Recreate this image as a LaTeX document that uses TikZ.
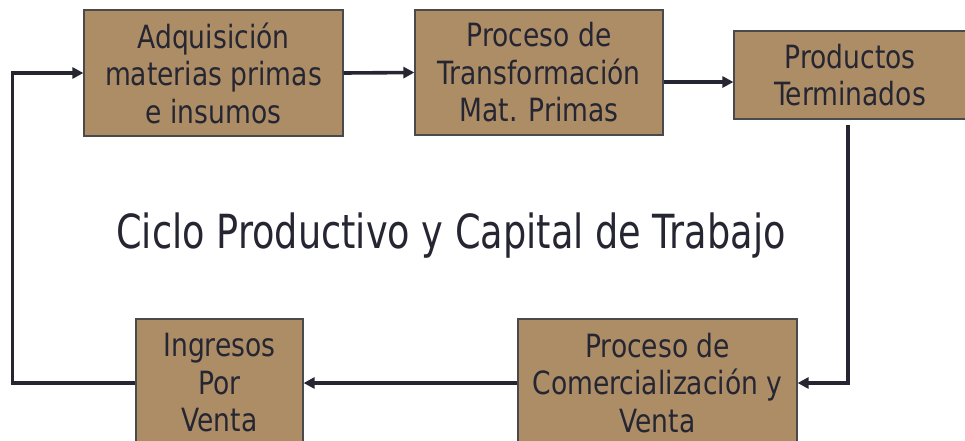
\documentclass[tikz,border=0pt]{standalone}
\usepackage{fontspec}
\setmainfont{DejaVu Sans}[FakeStretch=0.83]
\newfontfamily\titlefont{DejaVu Sans}[FakeStretch=0.78]
\usetikzlibrary{arrows.meta}
\definecolor{boxfill}{HTML}{AC8D66}
\definecolor{boxline}{HTML}{4A4A4A}
\definecolor{ink}{HTML}{262633}
\tikzset{
  procbox/.style={draw=boxline, line width=1.2pt, fill=boxfill, text=ink,
    rectangle, inner sep=0pt, align=center,
    font=\fontsize{32}{37.5}\selectfont},
  flow/.style={draw=ink, line width=3.6pt,
    -{Triangle[length=11pt,width=11pt]}}
}
\begin{document}
\begin{tikzpicture}[x=1pt,y=-1pt]
\useasboundingbox (0,0) rectangle (965,440);
\node[procbox, minimum width=259pt, minimum height=126pt] (b1) at (213.5,73)
  {Adquisición\\materias primas\\e insumos};
\node[procbox, minimum width=248pt, minimum height=125pt] (b2) at (539,72.5)
  {Proceso de\\Transformación\\Mat. Primas};
\node[procbox, minimum width=232pt, minimum height=88pt] (b3) at (850,75)
  {Productos\\Terminados};
\node[procbox, minimum width=279pt, minimum height=128pt] (b4) at (657.5,383)
  {Proceso de\\Comercialización y\\Venta};
\node[procbox, minimum width=167pt, minimum height=128pt] (b5) at (219.5,383)
  {Ingresos\\Por\\Venta};
\node[text=ink, font=\titlefont\fontsize{47}{56}\selectfont, anchor=base] (title) at (451,248)
  {Ciclo Productivo y Capital de Trabajo};
\coordinate (r2) at (0,82);
\coordinate (lft) at (12.5,0);
\coordinate (dn) at (848,0);
\draw[flow] (b1.east) -- (b2.west);
\draw[flow] (b2.east |- r2) -- (b3.west |- r2);
\draw[flow, shorten <=5pt] (b3.south -| dn) -- (dn |- b4.east) -- (b4.east);
\draw[flow] (b4.west) -- (b5.east);
\draw[flow] (b5.west) -- (b5.west -| lft) -- (lft |- b1.west) -- (b1.west);
\end{tikzpicture}
\end{document}
